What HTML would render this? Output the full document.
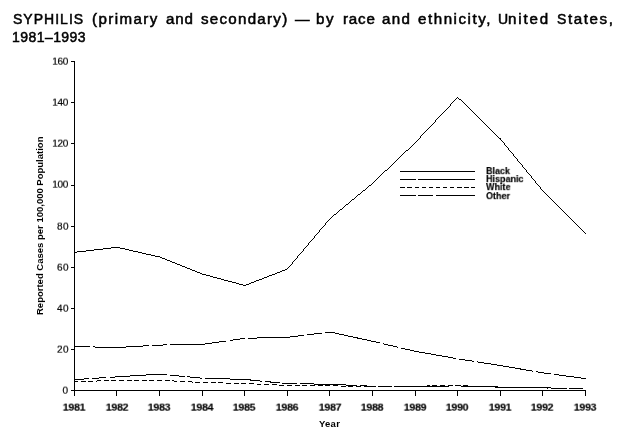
<!DOCTYPE html><html><head><meta charset="utf-8"><title>chart</title><style>
html,body{margin:0;padding:0;background:#fff;}
body{width:640px;height:440px;position:relative;overflow:hidden;font-family:"Liberation Sans",sans-serif;color:#000;}
.t{position:absolute;white-space:nowrap;line-height:1;will-change:transform;}
.title{font-size:14px;letter-spacing:1px;-webkit-text-stroke:0.5px #000;}
.yl{font-size:10px;-webkit-text-stroke:0.2px #000;width:30px;text-align:right;transform:scaleY(0.88);}
.xl{-webkit-text-stroke:0.15px #000;font-size:10px;font-weight:bold;letter-spacing:-0.3px;width:40px;text-align:center;transform:scale(1.06,0.88);}
.lg{-webkit-text-stroke:0.15px #000;font-size:10px;font-weight:bold;left:486.3px;transform-origin:0 0;transform:scale(0.9,0.9);}
</style></head><body>
<svg width="640" height="440" viewBox="0 0 640 440" shape-rendering="crispEdges" style="position:absolute;left:0;top:0">
<g fill="none" stroke="#000" stroke-width="1">
<path d="M74.5 61 V390.5 H585.5"/>
<path d="M71 390.5 H74.5"/>
<path d="M71 349.5 H74.5"/>
<path d="M71 308.5 H74.5"/>
<path d="M71 267.5 H74.5"/>
<path d="M71 226.5 H74.5"/>
<path d="M71 185.5 H74.5"/>
<path d="M71 143.5 H74.5"/>
<path d="M71 102.5 H74.5"/>
<path d="M71 61.5 H74.5"/>
<path d="M74.5 390 V396"/>
<path d="M116.5 390 V396"/>
<path d="M159.5 390 V396"/>
<path d="M202.5 390 V396"/>
<path d="M244.5 390 V396"/>
<path d="M287.5 390 V396"/>
<path d="M329.5 390 V396"/>
<path d="M372.5 390 V396"/>
<path d="M415.5 390 V396"/>
<path d="M457.5 390 V396"/>
<path d="M500.5 390 V396"/>
<path d="M542.5 390 V396"/>
<path d="M585.5 390 V396"/>
<path d="M457 97h1v1h-1zM456 98h1v1h-1zM458 98h1v1h-1zM455 99h1v1h-1zM459 99h2v1h-2zM454 100h1v1h-1zM461 100h1v1h-1zM453 101h1v1h-1zM462 101h1v1h-1zM452 102h1v1h-1zM463 102h1v1h-1zM451 103h1v1h-1zM464 103h1v1h-1zM450 104h1v1h-1zM465 104h1v1h-1zM450 105h1v1h-1zM466 105h1v1h-1zM449 106h1v1h-1zM467 106h1v1h-1zM448 107h1v1h-1zM468 107h1v1h-1zM447 108h1v1h-1zM469 108h1v1h-1zM446 109h1v1h-1zM470 109h1v1h-1zM445 110h1v1h-1zM471 110h1v1h-1zM444 111h1v1h-1zM472 111h1v1h-1zM443 112h1v1h-1zM473 112h1v1h-1zM442 113h1v1h-1zM474 113h1v1h-1zM441 114h1v1h-1zM475 114h1v1h-1zM440 115h1v1h-1zM476 115h1v1h-1zM439 116h1v1h-1zM477 116h1v1h-1zM438 117h1v1h-1zM478 117h1v1h-1zM437 118h1v1h-1zM479 118h1v1h-1zM436 119h1v1h-1zM480 119h1v1h-1zM435 120h1v1h-1zM481 120h1v1h-1zM435 121h1v1h-1zM482 121h1v1h-1zM434 122h1v1h-1zM483 122h1v1h-1zM433 123h1v1h-1zM484 123h1v1h-1zM432 124h1v1h-1zM485 124h1v1h-1zM431 125h1v1h-1zM486 125h1v1h-1zM430 126h1v1h-1zM487 126h1v1h-1zM429 127h1v1h-1zM488 127h1v1h-1zM428 128h1v1h-1zM489 128h1v1h-1zM427 129h1v1h-1zM490 129h1v1h-1zM426 130h1v1h-1zM491 130h1v1h-1zM425 131h1v1h-1zM492 131h1v1h-1zM424 132h1v1h-1zM493 132h1v1h-1zM423 133h1v1h-1zM494 133h1v1h-1zM422 134h1v1h-1zM495 134h1v1h-1zM421 135h1v1h-1zM496 135h1v1h-1zM420 136h1v1h-1zM497 136h1v1h-1zM420 137h1v1h-1zM498 137h1v1h-1zM419 138h1v1h-1zM499 138h2v1h-2zM418 139h1v1h-1zM500 139h1v1h-1zM417 140h1v1h-1zM501 140h1v1h-1zM416 141h1v1h-1zM502 141h1v1h-1zM415 142h1v1h-1zM503 142h1v1h-1zM414 143h1v1h-1zM504 143h1v1h-1zM413 144h1v1h-1zM504 144h1v1h-1zM412 145h1v1h-1zM505 145h1v1h-1zM411 146h1v1h-1zM506 146h1v1h-1zM410 147h1v1h-1zM507 147h1v1h-1zM409 148h1v1h-1zM508 148h1v1h-1zM408 149h1v1h-1zM508 149h1v1h-1zM406 150h2v1h-2zM509 150h1v1h-1zM405 151h1v1h-1zM510 151h1v1h-1zM404 152h1v1h-1zM511 152h1v1h-1zM403 153h1v1h-1zM512 153h1v1h-1zM402 154h1v1h-1zM513 154h1v1h-1zM401 155h1v1h-1zM513 155h1v1h-1zM400 156h1v1h-1zM514 156h1v1h-1zM399 157h1v1h-1zM515 157h1v1h-1zM398 158h1v1h-1zM516 158h1v1h-1zM397 159h1v1h-1zM517 159h1v1h-1zM396 160h1v1h-1zM517 160h1v1h-1zM395 161h1v1h-1zM518 161h1v1h-1zM394 162h1v1h-1zM519 162h1v1h-1zM393 163h1v1h-1zM520 163h1v1h-1zM392 164h1v1h-1zM521 164h1v1h-1zM391 165h1v1h-1zM522 165h1v1h-1zM390 166h1v1h-1zM522 166h1v1h-1zM389 167h1v1h-1zM523 167h1v1h-1zM388 168h1v1h-1zM524 168h1v1h-1zM387 169h1v1h-1zM525 169h1v1h-1zM385 170h2v1h-2zM526 170h1v1h-1zM384 171h1v1h-1zM526 171h1v1h-1zM383 172h1v1h-1zM527 172h1v1h-1zM382 173h1v1h-1zM528 173h1v1h-1zM381 174h1v1h-1zM529 174h1v1h-1zM380 175h1v1h-1zM530 175h1v1h-1zM379 176h1v1h-1zM531 176h1v1h-1zM378 177h1v1h-1zM531 177h1v1h-1zM377 178h1v1h-1zM532 178h1v1h-1zM376 179h1v1h-1zM533 179h1v1h-1zM375 180h1v1h-1zM534 180h1v1h-1zM374 181h1v1h-1zM535 181h1v1h-1zM373 182h1v1h-1zM535 182h1v1h-1zM372 183h1v1h-1zM536 183h1v1h-1zM371 184h1v1h-1zM537 184h1v1h-1zM369 185h2v1h-2zM538 185h1v1h-1zM368 186h1v1h-1zM539 186h1v1h-1zM367 187h1v1h-1zM540 187h1v1h-1zM366 188h1v1h-1zM540 188h1v1h-1zM365 189h1v1h-1zM541 189h1v1h-1zM363 190h2v1h-2zM542 190h1v1h-1zM362 191h1v1h-1zM543 191h1v1h-1zM361 192h1v1h-1zM544 192h1v1h-1zM360 193h1v1h-1zM545 193h1v1h-1zM358 194h2v1h-2zM546 194h1v1h-1zM357 195h1v1h-1zM547 195h1v1h-1zM356 196h1v1h-1zM548 196h1v1h-1zM355 197h1v1h-1zM549 197h1v1h-1zM354 198h1v1h-1zM550 198h1v1h-1zM352 199h2v1h-2zM551 199h1v1h-1zM351 200h1v1h-1zM552 200h1v1h-1zM350 201h1v1h-1zM553 201h1v1h-1zM349 202h1v1h-1zM554 202h1v1h-1zM348 203h1v1h-1zM555 203h1v1h-1zM346 204h2v1h-2zM556 204h1v1h-1zM345 205h1v1h-1zM557 205h1v1h-1zM344 206h1v1h-1zM558 206h1v1h-1zM343 207h1v1h-1zM559 207h1v1h-1zM342 208h1v1h-1zM560 208h1v1h-1zM340 209h2v1h-2zM561 209h1v1h-1zM339 210h1v1h-1zM562 210h1v1h-1zM338 211h1v1h-1zM563 211h1v1h-1zM337 212h1v1h-1zM564 212h1v1h-1zM336 213h1v1h-1zM565 213h1v1h-1zM334 214h2v1h-2zM566 214h1v1h-1zM333 215h1v1h-1zM567 215h1v1h-1zM332 216h1v1h-1zM568 216h1v1h-1zM331 217h1v1h-1zM569 217h1v1h-1zM330 218h1v1h-1zM570 218h1v1h-1zM329 219h1v1h-1zM571 219h1v1h-1zM328 220h1v1h-1zM572 220h1v1h-1zM327 221h1v1h-1zM573 221h1v1h-1zM326 222h1v1h-1zM574 222h1v1h-1zM325 223h1v1h-1zM575 223h1v1h-1zM325 224h1v1h-1zM576 224h1v1h-1zM324 225h1v1h-1zM577 225h1v1h-1zM323 226h1v1h-1zM578 226h1v1h-1zM322 227h1v1h-1zM579 227h1v1h-1zM321 228h1v1h-1zM580 228h1v1h-1zM320 229h1v1h-1zM581 229h1v1h-1zM319 230h1v1h-1zM582 230h1v1h-1zM319 231h1v1h-1zM583 231h1v1h-1zM318 232h1v1h-1zM584 232h1v1h-1zM317 233h1v1h-1zM585 233h1v1h-1zM316 234h1v1h-1zM315 235h1v1h-1zM314 236h1v1h-1zM314 237h1v1h-1zM313 238h1v1h-1zM312 239h1v1h-1zM311 240h1v1h-1zM310 241h1v1h-1zM309 242h1v1h-1zM308 243h1v1h-1zM308 244h1v1h-1zM307 245h1v1h-1zM306 246h1v1h-1zM111 247h9v1h-9zM305 247h1v1h-1zM103 248h8v1h-8zM120 248h5v1h-5zM304 248h1v1h-1zM94 249h9v1h-9zM125 249h4v1h-4zM303 249h1v1h-1zM86 250h8v1h-8zM129 250h4v1h-4zM303 250h1v1h-1zM77 251h9v1h-9zM133 251h5v1h-5zM302 251h1v1h-1zM74 252h3v1h-3zM138 252h4v1h-4zM301 252h1v1h-1zM142 253h4v1h-4zM300 253h1v1h-1zM146 254h5v1h-5zM299 254h1v1h-1zM151 255h4v1h-4zM298 255h1v1h-1zM155 256h5v1h-5zM297 256h1v1h-1zM160 257h2v1h-2zM297 257h1v1h-1zM162 258h3v1h-3zM296 258h1v1h-1zM165 259h2v1h-2zM295 259h1v1h-1zM167 260h3v1h-3zM294 260h1v1h-1zM170 261h2v1h-2zM293 261h1v1h-1zM172 262h3v1h-3zM292 262h1v1h-1zM175 263h2v1h-2zM292 263h1v1h-1zM177 264h3v1h-3zM291 264h1v1h-1zM180 265h2v1h-2zM290 265h1v1h-1zM182 266h3v1h-3zM289 266h1v1h-1zM185 267h2v1h-2zM288 267h1v1h-1zM187 268h3v1h-3zM287 268h1v1h-1zM190 269h2v1h-2zM285 269h2v1h-2zM192 270h3v1h-3zM282 270h3v1h-3zM195 271h2v1h-2zM280 271h2v1h-2zM197 272h3v1h-3zM277 272h3v1h-3zM200 273h2v1h-2zM275 273h2v1h-2zM202 274h4v1h-4zM272 274h3v1h-3zM206 275h4v1h-4zM269 275h3v1h-3zM210 276h3v1h-3zM267 276h2v1h-2zM213 277h4v1h-4zM264 277h3v1h-3zM217 278h4v1h-4zM262 278h2v1h-2zM221 279h3v1h-3zM259 279h3v1h-3zM224 280h4v1h-4zM256 280h3v1h-3zM228 281h4v1h-4zM254 281h2v1h-2zM232 282h4v1h-4zM251 282h3v1h-3zM236 283h3v1h-3zM249 283h2v1h-2zM239 284h4v1h-4zM246 284h3v1h-3zM243 285h3v1h-3z" fill="#000" stroke="none"/>
<polyline points="74.50,346.50 117.08,347.55 159.67,345.05 202.25,344.40 244.83,338.30 287.42,337.30 330.00,332.00 372.58,341.30 415.17,351.30 457.75,358.80 500.33,365.50 542.92,372.90 585.50,378.60" stroke-dasharray="15.2 3 56.5 3"/>
<polyline points="74.50,379.60 117.08,376.85 159.67,374.15 202.25,378.20 244.83,379.45 287.42,383.70 330.00,384.20 372.58,386.30 415.17,386.45 457.75,385.90 500.33,387.15 542.92,387.95 585.50,388.50" stroke-dasharray="15 2.2 14.8 3.2 57.3 3"/>
<polyline points="74.50,381.60 117.08,380.50 159.67,380.20 202.25,382.60 244.83,383.40 287.42,385.50 330.00,385.90 372.58,386.40 415.17,386.20 457.75,385.50 500.33,387.10 542.92,387.90 585.50,388.50" stroke-dasharray="5 2.65" stroke-dashoffset="1.5"/>
<path d="M400 171.5 H475"/>
<path d="M400 179.5 H475" stroke-dasharray="16 2 100"/>
<path d="M400 187.5H405 M407 187.5H412 M415 187.5H419 M422 187.5H426 M429 187.5H433 M436 187.5H440 M443 187.5H447 M450 187.5H454 M457 187.5H462 M464 187.5H469 M471 187.5H475"/>
<path d="M400 195.5 H475" stroke-dasharray="16 2 15 3 100"/>
</g></svg>
<div class="t title" style="left:12.85px;top:12.0px;letter-spacing:1.02px;transform-origin:0 0;transform:scaleX(1.000)">SYPHILIS</div>
<div class="t title" style="left:92.09px;top:12.0px;letter-spacing:1.31px;transform-origin:0 0;transform:scaleX(1.080)">(primary</div>
<div class="t title" style="left:166.03px;top:12.0px;letter-spacing:0.74px;transform-origin:0 0;transform:scaleX(1.080)">and</div>
<div class="t title" style="left:200.98px;top:12.0px;letter-spacing:1.17px;transform-origin:0 0;transform:scaleX(1.080)">secondary)</div>
<div class="t title" style="left:294.66px;top:12.0px;letter-spacing:0.00px;transform-origin:0 0;transform:scaleX(1.040)">—</div>
<div class="t title" style="left:315.99px;top:12.0px;letter-spacing:1.49px;transform-origin:0 0;transform:scaleX(1.080)">by</div>
<div class="t title" style="left:342.79px;top:12.0px;letter-spacing:0.75px;transform-origin:0 0;transform:scaleX(1.080)">race</div>
<div class="t title" style="left:382.03px;top:12.0px;letter-spacing:1.25px;transform-origin:0 0;transform:scaleX(1.080)">and</div>
<div class="t title" style="left:417.93px;top:12.0px;letter-spacing:1.43px;transform-origin:0 0;transform:scaleX(1.080)">ethnicity,</div>
<div class="t title" style="left:498.35px;top:12.0px;letter-spacing:0.00px;transform-origin:0 0;transform:scaleX(1.000)">U</div>
<div class="t title" style="left:508.49px;top:12.0px;letter-spacing:1.69px;transform-origin:0 0;transform:scaleX(1.080)">nited</div>
<div class="t title" style="left:557.15px;top:12.0px;letter-spacing:0.00px;transform-origin:0 0;transform:scaleX(1.000)">S</div>
<div class="t title" style="left:568.20px;top:12.0px;letter-spacing:1.46px;transform-origin:0 0;transform:scaleX(1.080)">tates,</div>
<div class="t title" style="left:12.25px;top:29.5px;letter-spacing:0.44px;transform-origin:0 0;transform:scaleX(1.000)">1981–1993</div>
<div class="t yl" style="top:385.6px;left:38.2px;letter-spacing:0.0px">0</div>
<div class="t yl" style="top:344.6px;left:38.6px;letter-spacing:0.4px">20</div>
<div class="t yl" style="top:303.6px;left:38.6px;letter-spacing:0.4px">40</div>
<div class="t yl" style="top:262.6px;left:38.6px;letter-spacing:0.4px">60</div>
<div class="t yl" style="top:221.6px;left:38.6px;letter-spacing:0.4px">80</div>
<div class="t yl" style="top:179.6px;left:37.9px;letter-spacing:-0.3px">100</div>
<div class="t yl" style="top:138.6px;left:37.9px;letter-spacing:-0.3px">120</div>
<div class="t yl" style="top:97.6px;left:37.9px;letter-spacing:-0.3px">140</div>
<div class="t yl" style="top:56.6px;left:37.9px;letter-spacing:-0.3px">160</div>
<div class="t xl" style="left:54.4px;top:402.9px">1981</div>
<div class="t xl" style="left:97.4px;top:402.9px">1982</div>
<div class="t xl" style="left:139.4px;top:402.9px">1983</div>
<div class="t xl" style="left:182.4px;top:402.9px">1984</div>
<div class="t xl" style="left:224.4px;top:402.9px">1985</div>
<div class="t xl" style="left:267.4px;top:402.9px">1986</div>
<div class="t xl" style="left:310.4px;top:402.9px">1987</div>
<div class="t xl" style="left:352.4px;top:402.9px">1988</div>
<div class="t xl" style="left:395.4px;top:402.9px">1989</div>
<div class="t xl" style="left:437.4px;top:402.9px">1990</div>
<div class="t xl" style="left:480.4px;top:402.9px">1991</div>
<div class="t xl" style="left:522.4px;top:402.9px">1992</div>
<div class="t xl" style="left:565.4px;top:402.9px">1993</div>
<div class="t" style="font-size:9.5px;font-weight:bold;left:319.2px;top:419.1px;letter-spacing:0.25px">Year</div>
<div class="t" style="font-size:9.5px;font-weight:bold;left:35px;top:315px;transform-origin:0 0;transform:rotate(-90deg);">Reported Cases per 100,000 Population</div>
<div class="t lg" style="top:166.9px">Black</div>
<div class="t lg" style="top:175.1px">Hispanic</div>
<div class="t lg" style="top:183.3px">White</div>
<div class="t lg" style="top:191.5px">Other</div>
</body></html>
